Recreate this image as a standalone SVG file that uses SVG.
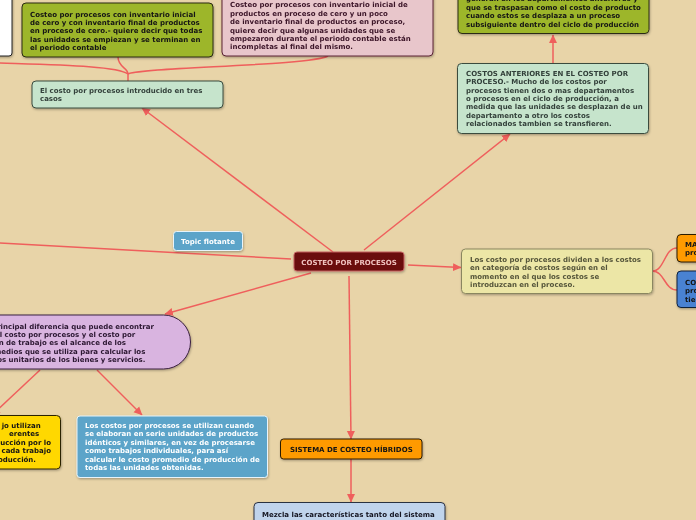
<svg xmlns="http://www.w3.org/2000/svg" width="696" height="520" viewBox="0 0 696 520">
<defs>
<marker id="arr" markerUnits="userSpaceOnUse" markerWidth="9" markerHeight="9" refX="8" refY="4.5" orient="auto">
<path d="M0,0.5 L8.5,4.5 L0,8.5 z" fill="#ef5f5c"/>
</marker>
<filter id="sh" x="-10%" y="-10%" width="120%" height="130%">
<feDropShadow dx="0.6" dy="1.2" stdDeviation="0.8" flood-color="#000" flood-opacity="0.3"/>
</filter>
</defs>
<style>
text{font-family:"DejaVu Sans","Verdana",sans-serif;font-size:7px;font-weight:bold}
.c{fill:none;stroke:#ef5f5c;stroke-width:1.5}
.n{filter:url(#sh)}
.olive{fill:#9db62b;stroke:#2a2a12;stroke-width:1}
.lg{fill:#c6e4cc;stroke:#3b4b3e;stroke-width:1}
.t-dk{fill:#141414}
.t-lg{fill:#33403a}
.t-w{fill:#ffffff}
</style>
<rect x="0" y="0" width="696" height="520" fill="#e8d4a8"/>

<g id="connectors">
<path class="c" d="M128,81 L128,74 C128,68 118,67 118,57"/>
<path class="c" d="M128,74 C140,67 310,66 328,56"/>
<path class="c" d="M128,74 C118,66 60,65 -2,63"/>
<path class="c" d="M553,63 L553,35" marker-end="url(#arr)"/>
<path class="c" d="M364,250 L510,134" marker-end="url(#arr)"/>
<path class="c" d="M333,252 L142,108" marker-end="url(#arr)"/>
<path class="c" d="M291,259 L-2,243"/>
<path class="c" d="M311,273 L165,314" marker-end="url(#arr)"/>
<path class="c" d="M408,265 L461,267.5" marker-end="url(#arr)"/>
<path class="c" d="M349,276 L351,439" marker-end="url(#arr)"/>
<path class="c" d="M652,271 C665,271 664,248 677,248"/>
<path class="c" d="M652,271 C665,271 664,290 677,290"/>
<path class="c" d="M40,370 L-8,415" marker-end="url(#arr)"/>
<path class="c" d="M97,370 L142,415" marker-end="url(#arr)"/>
<path class="c" d="M351,459 L351,502" marker-end="url(#arr)"/>
</g>

<g id="node-white" class="n">
<rect x="-10" y="-10" width="22" height="66" rx="3" fill="#ffffff" stroke="#222" stroke-width="1"/>
</g>

<g id="node-caso1" class="n">
<rect class="olive" x="22" y="3" width="191" height="54" rx="4"/>
<text class="t-dk" x="30" y="16.5">Costeo por procesos con inventario inicial</text>
<text class="t-dk" x="30" y="25">de cero y con inventario final de productos</text>
<text class="t-dk" x="30" y="33.4">en proceso de cero.- quiere decir que todas</text>
<text class="t-dk" x="30" y="41.8">las unidades se empiezan y se terminan en</text>
<text class="t-dk" x="30" y="50.2">el periodo contable</text>
</g>

<g id="node-caso2" class="n">
<rect x="222" y="-10" width="211" height="66" rx="4" fill="#e8c6cb" stroke="#5a2434" stroke-width="1"/>
<text fill="#3b1428" x="230" y="7.4">Costeo por procesos con inventario inicial de</text>
<text fill="#3b1428" x="230" y="15.8">productos en proceso de cero y un poco</text>
<text fill="#3b1428" x="230" y="24.2">de inventario final de productos en proceso,</text>
<text fill="#3b1428" x="230" y="32.6">quiere decir que algunas unidades que se</text>
<text fill="#3b1428" x="230" y="41">empezaron durante el periodo contable  están</text>
<text fill="#3b1428" x="230" y="49.4">incompletas al final del mismo.</text>
</g>

<g id="node-tres-casos" class="n">
<rect class="lg" x="32" y="81" width="191" height="27" rx="4"/>
<text class="t-lg" x="40" y="92.5">El costo por procesos introducido en tres</text>
<text class="t-lg" x="40" y="101">casos</text>
</g>

<g id="node-traspaso" class="n">
<rect class="olive" x="458" y="-10" width="191" height="43.5" rx="4"/>
<text class="t-dk" x="466" y="1.3">generan en los departamentos anteriores y</text>
<text class="t-dk" x="466" y="9.8">que se traspasan como el costo de producto</text>
<text class="t-dk" x="466" y="18.2">cuando estos se desplaza a un proceso</text>
<text class="t-dk" x="466" y="26.7">subsiguiente dentro del ciclo de producción</text>
</g>

<g id="node-anteriores" class="n">
<rect class="lg" x="457.5" y="63.5" width="191" height="70" rx="4"/>
<text class="t-lg" x="466" y="75.8">COSTOS ANTERIORES EN EL COSTEO POR</text>
<text class="t-lg" x="466" y="84.2">PROCESO.- Mucho de los costos por</text>
<text class="t-lg" x="466" y="92.6">procesos  tienen dos o mas departamentos</text>
<text class="t-lg" x="466" y="101">o  procesos en el ciclo de producción, a</text>
<text class="t-lg" x="466" y="109.4">medida que las unidades se desplazan de un</text>
<text class="t-lg" x="466" y="117.8">departamento a otro los costos</text>
<text class="t-lg" x="466" y="126.2">relacionados tambien se transfieren.</text>
</g>

<g id="node-central" class="n">
<rect x="294" y="252" width="110" height="19" rx="3" fill="#6b0a0c" stroke="#c46060" stroke-width="1"/>
<text x="349" y="264.5" text-anchor="middle" fill="#efc4c0">COSTEO POR PROCESOS</text>
</g>

<g id="node-topic-flotante" class="n">
<rect x="173.5" y="231.5" width="69" height="19" rx="3" fill="#5ba4c9" stroke="#e8f4fa" stroke-width="1"/>
<text class="t-w" x="208" y="244.3" text-anchor="middle">Topic flotante</text>
</g>

<g id="node-categorias" class="n">
<rect x="461.5" y="249" width="191" height="44.5" rx="4" fill="#ece6a6" stroke="#8a8660" stroke-width="1"/>
<text fill="#55553a" x="470" y="261.8">Los costo por  procesos dividen a los costos</text>
<text fill="#55553a" x="470" y="270.2">en categoría de costos según en el</text>
<text fill="#55553a" x="470" y="278.6">momento en el que los costos se</text>
<text fill="#55553a" x="470" y="287">introduzcan en el proceso.</text>
</g>

<g id="node-ma" class="n">
<rect x="677" y="234.5" width="30" height="27.5" rx="4" fill="#fe9a00" stroke="#2a1a00" stroke-width="1"/>
<text class="t-dk" x="685" y="247">MA</text>
<text class="t-dk" x="685" y="255.4">pro</text>
</g>

<g id="node-co" class="n">
<rect x="677" y="271" width="30" height="36.5" rx="4" fill="#4a82d2" stroke="#10203a" stroke-width="1"/>
<text class="t-dk" x="685" y="285">CO</text>
<text class="t-dk" x="685" y="293.4">pro</text>
<text class="t-dk" x="685" y="301.8">tier</text>
</g>

<g id="node-diferencia" class="n">
<rect x="-40" y="315" width="230.5" height="54" rx="27" fill="#d9b4e0" stroke="#3a2040" stroke-width="1"/>
<text fill="#2a1630" x="154" y="328.5" text-anchor="end">rincipal diferencia que puede encontrar</text>
<text fill="#2a1630" x="135.3" y="336.9" text-anchor="end">e el costo por procesos y el costo por</text>
<text fill="#2a1630" x="126" y="345.3" text-anchor="end">n de trabajo es el alcance de los</text>
<text fill="#2a1630" x="145.3" y="353.7" text-anchor="end">medios que se utiliza para calcular los</text>
<text fill="#2a1630" x="145.3" y="362.1" text-anchor="end">os unitarios de los bienes y servicios.</text>
</g>

<g id="node-orden" class="n">
<rect x="-40" y="415.5" width="100.5" height="53.5" rx="4" fill="#ffd800" stroke="#2a2200" stroke-width="1"/>
<text class="t-dk" x="40.7" y="427.5" text-anchor="end">jo utilizan</text>
<text class="t-dk" x="39.3" y="436" text-anchor="end">erentes</text>
<text class="t-dk" x="51" y="444.5" text-anchor="end">ucción por lo</text>
<text class="t-dk" x="51" y="453" text-anchor="end">cada trabajo</text>
<text class="t-dk" x="36" y="461.5" text-anchor="end">oducción.</text>
</g>

<g id="node-utilizan" class="n">
<rect x="77" y="416" width="190.5" height="61.5" rx="3" fill="#5ba4c9" stroke="#e8f4fa" stroke-width="1"/>
<text class="t-w" x="85" y="427.5">Los costos por procesos se utilizan cuando</text>
<text class="t-w" x="85" y="436">se elaboran en serie unidades de productos</text>
<text class="t-w" x="85" y="444.5">idénticos y similares, en vez de procesarse</text>
<text class="t-w" x="85" y="453">como trabajos individuales, para así</text>
<text class="t-w" x="85" y="461.5">calcular le costo promedio de producción de</text>
<text class="t-w" x="85" y="470">todas las unidades obtenidas.</text>
</g>

<g id="node-hibridos" class="n">
<rect x="280.5" y="439" width="141.5" height="20" rx="3" fill="#fe9a00" stroke="#2a1a00" stroke-width="1"/>
<text class="t-dk" x="351.3" y="452" text-anchor="middle">SISTEMA DE COSTEO HÍBRIDOS</text>
</g>

<g id="node-mezcla" class="n">
<rect x="254" y="502.5" width="191" height="30" rx="4" fill="#c0d4ec" stroke="#2a3040" stroke-width="1"/>
<text fill="#141420" x="262" y="516.5">Mezcla las características  tanto del sistema</text>
</g>
</svg>
